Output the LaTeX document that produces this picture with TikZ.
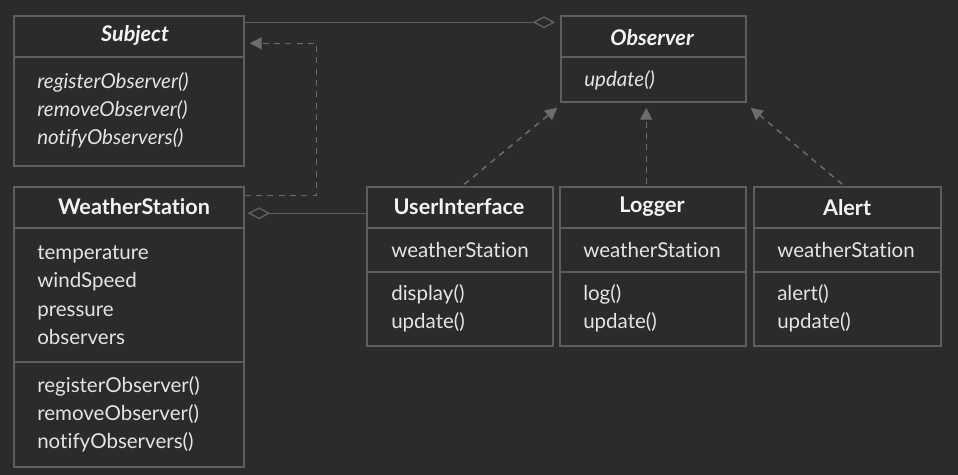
\documentclass[tikz,border=0pt]{standalone}
\usepackage{fontspec}
\setmainfont{Lato}[Ligatures={NoCommon,NoRequired,NoContextual}]
\usetikzlibrary{arrows.meta,calc,fit}
\definecolor{bg}{HTML}{2B2B2B}
\definecolor{bord}{HTML}{5E5E5E}
\definecolor{arr}{HTML}{6C6C6C}
\definecolor{txt}{HTML}{F4F4F4}
\definecolor{itm}{HTML}{E4E4E4}
\begin{document}
\begin{tikzpicture}[x=0.75pt,y=-0.75pt,
  box/.style={draw=bord,line width=1.1pt,inner sep=0pt,fill=none},
  sep/.style={draw=bord,line width=1.1pt},
  ttl/.style={anchor=base,inner sep=0pt,text=txt,font=\fontsize{16.2}{19}\selectfont\bfseries},
  ittl/.style={ttl,font=\fontsize{16.2}{19}\selectfont\bfseries\itshape},
  itm/.style={anchor=base west,inner sep=0pt,text=itm,font=\fontsize{15.4}{18}\selectfont},
  iitm/.style={itm,font=\fontsize{15.4}{18}\selectfont\itshape},
  agg/.style={draw=bord,line width=1.1pt,-{Diamond[open,length=17pt,width=9pt,line width=1.1pt]}},
  real/.style={draw=arr,line width=1.1pt,dash pattern=on 4.5pt off 4pt,-{Triangle[length=9pt,width=9pt]}}]
\useasboundingbox[fill=bg] (0,0) rectangle (958,475);
% boxes
\node[box,fit={(14,16) (244,166)}] (subject) {};
\node[box,fit={(561,16) (746,102)}] (observer) {};
\node[box,fit={(14,187) (244,467)}] (ws) {};
\node[box,fit={(367,187) (553,346)}] (ui) {};
\node[box,fit={(560,187) (746,346)}] (logger) {};
\node[box,fit={(754,187) (941,346)}] (alert) {};
% separators
\draw[sep] (14,57) -- (244,57);
\draw[sep] (561,57) -- (746,57);
\draw[sep] (14,228) -- (244,228);
\draw[sep] (14,362) -- (244,362);
\foreach \a/\b in {367/553,560/746,754/941}{
  \draw[sep] (\a,228) -- (\b,228);
  \draw[sep] (\a,272) -- (\b,272);
}
% Subject
\node[ittl] (subjT) at (135,41) {Subject};
\node[iitm] (s1) at (37,88) {registerObserver()};
\node[iitm] (s2) at (37,116) {removeObserver()};
\node[iitm] (s3) at (37,144) {notifyObservers()};
% Observer
\node[ittl] (obsT) at (652,45) {Observer};
\node[iitm] (o1) at (584,86) {update()};
% WeatherStation
\node[ttl] (wsT) at (134,214) {WeatherStation};
\node[itm] (w1) at (37,259) {temperature};
\node[itm] (w2) at (37,287) {windSpeed};
\node[itm] (w3) at (37,316) {pressure};
\node[itm] (w4) at (37,344) {observers};
\node[itm] (w5) at (37,392) {registerObserver()};
\node[itm] (w6) at (37,420) {removeObserver()};
\node[itm] (w7) at (37,448) {notifyObservers()};
% UserInterface
\node[ttl] (uiT) at (459,214) {UserInterface};
\node[itm] (u1) at (391,257) {weatherStation};
\node[itm] (u2) at (391,300) {display()};
\node[itm] (u3) at (391,328) {update()};
% Logger
\node[ttl] (lgT) at (652,212) {Logger};
\node[itm] (l1) at (583,257) {weatherStation};
\node[itm] (l2) at (583,300) {log()};
\node[itm] (l3) at (583,328) {update()};
% Alert
\node[ttl] (alT) at (847,215) {Alert};
\node[itm] (a1) at (777,257) {weatherStation};
\node[itm] (a2) at (777,300) {alert()};
\node[itm] (a3) at (777,328) {update()};
% connectors
\draw[agg] ($(subject.north east)+(0,7)$) -- ($(observer.north west)+(-5,7)$);
\draw[agg] ($(ui.north west)+(0,27)$) -- ($(ws.north east)+(3,27)$);
\draw[real] ($(ws.north east)+(0,9)$) -- ++(72,0) |- ($(subject.north east)+(5,28)$);
\draw[real] ($(ui.north west)+(98,-2)$) -- ($(observer.south west)+(-3,5)$);
\draw[real] ($(logger.north west)+(87,-2)$) -- ($(observer.south west)+(86,5)$);
\draw[real] ($(alert.north west)+(89,-2)$) -- ($(observer.south east)+(4,5)$);
\end{tikzpicture}
\end{document}
